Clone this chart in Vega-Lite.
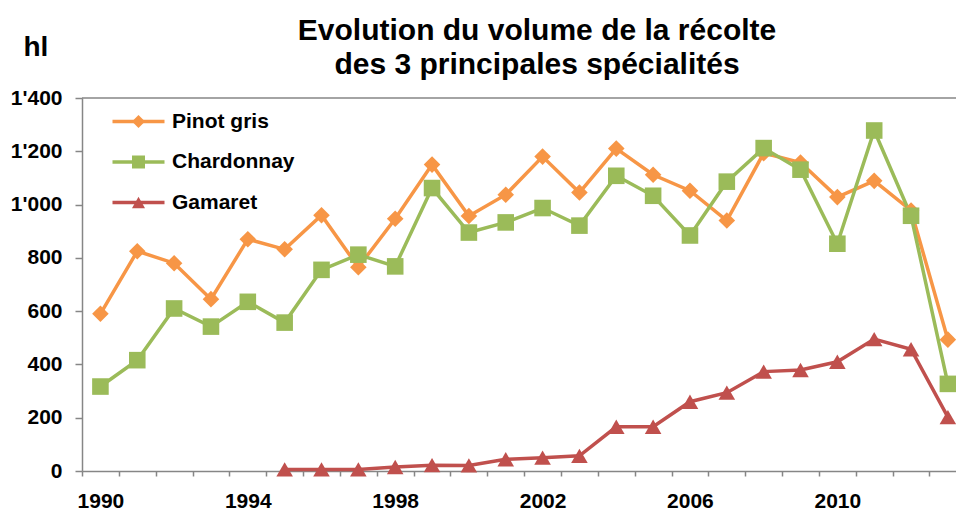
{
  "$schema": "https://vega.github.io/schema/vega-lite/v6.json",
  "width": 874,
  "height": 373,
  "autosize": {"type": "none"},
  "padding": {"left": 82, "top": 98, "right": 0, "bottom": 39},
  "background": "white",
  "config": {
    "font": "Liberation Sans",
    "view": {"stroke": null},
    "axis": {
      "grid": false,
      "domainColor": "#868686",
      "domainWidth": 1.5,
      "tickColor": "#868686",
      "tickWidth": 1.5,
      "labelFont": "Liberation Sans",
      "labelFontWeight": "bold",
      "labelColor": "#000000",
      "labelFontSize": 21
    }
  },
  "title": {
    "text": ["Evolution du volume de la récolte", "des 3 principales spécialités"],
    "font": "Liberation Sans",
    "fontSize": 30,
    "fontWeight": "bold",
    "color": "#000000",
    "lineHeight": 34,
    "anchor": "middle",
    "dx": 18,
    "dy": 57,
    "offset": 10
  },
  "datasets": {
    "harvest": [
      {"year": 1990, "variety": "Pinot gris", "hl": 590},
      {"year": 1991, "variety": "Pinot gris", "hl": 825},
      {"year": 1992, "variety": "Pinot gris", "hl": 780},
      {"year": 1993, "variety": "Pinot gris", "hl": 645},
      {"year": 1994, "variety": "Pinot gris", "hl": 870},
      {"year": 1995, "variety": "Pinot gris", "hl": 832},
      {"year": 1996, "variety": "Pinot gris", "hl": 960},
      {"year": 1997, "variety": "Pinot gris", "hl": 765},
      {"year": 1998, "variety": "Pinot gris", "hl": 947},
      {"year": 1999, "variety": "Pinot gris", "hl": 1150},
      {"year": 2000, "variety": "Pinot gris", "hl": 957},
      {"year": 2001, "variety": "Pinot gris", "hl": 1037},
      {"year": 2002, "variety": "Pinot gris", "hl": 1180},
      {"year": 2003, "variety": "Pinot gris", "hl": 1045},
      {"year": 2004, "variety": "Pinot gris", "hl": 1210},
      {"year": 2005, "variety": "Pinot gris", "hl": 1112},
      {"year": 2006, "variety": "Pinot gris", "hl": 1052},
      {"year": 2007, "variety": "Pinot gris", "hl": 940},
      {"year": 2008, "variety": "Pinot gris", "hl": 1193},
      {"year": 2009, "variety": "Pinot gris", "hl": 1158},
      {"year": 2010, "variety": "Pinot gris", "hl": 1028},
      {"year": 2011, "variety": "Pinot gris", "hl": 1089},
      {"year": 2012, "variety": "Pinot gris", "hl": 978},
      {"year": 2013, "variety": "Pinot gris", "hl": 493},
      {"year": 1990, "variety": "Chardonnay", "hl": 317},
      {"year": 1991, "variety": "Chardonnay", "hl": 416},
      {"year": 1992, "variety": "Chardonnay", "hl": 610},
      {"year": 1993, "variety": "Chardonnay", "hl": 542},
      {"year": 1994, "variety": "Chardonnay", "hl": 635},
      {"year": 1995, "variety": "Chardonnay", "hl": 557},
      {"year": 1996, "variety": "Chardonnay", "hl": 755},
      {"year": 1997, "variety": "Chardonnay", "hl": 812},
      {"year": 1998, "variety": "Chardonnay", "hl": 768},
      {"year": 1999, "variety": "Chardonnay", "hl": 1062},
      {"year": 2000, "variety": "Chardonnay", "hl": 895},
      {"year": 2001, "variety": "Chardonnay", "hl": 933},
      {"year": 2002, "variety": "Chardonnay", "hl": 987},
      {"year": 2003, "variety": "Chardonnay", "hl": 921},
      {"year": 2004, "variety": "Chardonnay", "hl": 1108},
      {"year": 2005, "variety": "Chardonnay", "hl": 1033},
      {"year": 2006, "variety": "Chardonnay", "hl": 884},
      {"year": 2007, "variety": "Chardonnay", "hl": 1086},
      {"year": 2008, "variety": "Chardonnay", "hl": 1212},
      {"year": 2009, "variety": "Chardonnay", "hl": 1131},
      {"year": 2010, "variety": "Chardonnay", "hl": 853},
      {"year": 2011, "variety": "Chardonnay", "hl": 1278},
      {"year": 2012, "variety": "Chardonnay", "hl": 958},
      {"year": 2013, "variety": "Chardonnay", "hl": 327},
      {"year": 1995, "variety": "Gamaret", "hl": 6},
      {"year": 1996, "variety": "Gamaret", "hl": 6},
      {"year": 1997, "variety": "Gamaret", "hl": 6},
      {"year": 1998, "variety": "Gamaret", "hl": 15},
      {"year": 1999, "variety": "Gamaret", "hl": 22},
      {"year": 2000, "variety": "Gamaret", "hl": 21},
      {"year": 2001, "variety": "Gamaret", "hl": 44},
      {"year": 2002, "variety": "Gamaret", "hl": 50},
      {"year": 2003, "variety": "Gamaret", "hl": 57},
      {"year": 2004, "variety": "Gamaret", "hl": 166},
      {"year": 2005, "variety": "Gamaret", "hl": 166},
      {"year": 2006, "variety": "Gamaret", "hl": 260},
      {"year": 2007, "variety": "Gamaret", "hl": 294},
      {"year": 2008, "variety": "Gamaret", "hl": 373},
      {"year": 2009, "variety": "Gamaret", "hl": 379},
      {"year": 2010, "variety": "Gamaret", "hl": 410},
      {"year": 2011, "variety": "Gamaret", "hl": 495},
      {"year": 2012, "variety": "Gamaret", "hl": 457},
      {"year": 2013, "variety": "Gamaret", "hl": 202}
    ]
  },
  "data": {"name": "harvest"},
  "encoding": {
    "x": {
      "field": "year",
      "type": "quantitative",
      "scale": {"domain": [1989.5, 2013.22], "nice": false, "zero": false},
      "axis": {
        "title": null,
        "values": [1989.5, 1990.5, 1991.5, 1992.5, 1993.5, 1994.5, 1995.5, 1996.5, 1997.5, 1998.5, 1999.5, 2000.5, 2001.5, 2002.5, 2003.5, 2004.5, 2005.5, 2006.5, 2007.5, 2008.5, 2009.5, 2010.5, 2011.5, 2012.5],
        "labelExpr": "(datum.value + 0.5 - 1990) % 4 == 0 ? '' + (datum.value + 0.5) : ''",
        "labelOffset": 18.4,
        "labelFlush": false,
        "labelOverlap": false,
        "labelBound": false,
        "tickSize": 5,
        "labelPadding": 14
      }
    },
    "y": {
      "field": "hl",
      "type": "quantitative",
      "scale": {"domain": [0, 1400], "nice": false},
      "axis": {
        "title": "hl",
        "titleAngle": 0,
        "titleX": -59,
        "titleY": -43,
        "titleAlign": "left",
        "titleBaseline": "alphabetic",
        "titleFont": "Liberation Sans",
        "titleFontSize": 28,
        "titleFontWeight": "bold",
        "titleColor": "#000000",
        "values": [0, 200, 400, 600, 800, 1000, 1200, 1400],
        "labelExpr": "replace(format(datum.value, ','), ',', \"'\")",
        "tickSize": 7,
        "labelPadding": 13
      }
    }
  },
  "layer": [
    {
      "data": {"values": [{"top": 1400}]},
      "mark": {"type": "rule", "color": "#868686", "strokeWidth": 1.5},
      "encoding": {"x": null, "y": {"field": "top", "type": "quantitative"}}
    },
    {
      "mark": {"type": "line", "strokeWidth": 3.5},
      "encoding": {
        "stroke": {
          "field": "variety",
          "type": "nominal",
          "sort": ["Pinot gris", "Chardonnay", "Gamaret"],
          "scale": {"range": ["#F79646", "#9BBB59", "#C0504D"]},
          "legend": {
            "orient": "none",
            "legendX": 46,
            "legendY": 13,
            "title": null,
            "symbolType": "M-4,0H4",
            "symbolSize": 169,
            "symbolStrokeWidth": 3.5,
            "labelFont": "Liberation Sans",
            "labelFontSize": 21,
            "labelFontWeight": "bold",
            "labelColor": "#000000",
            "labelOffset": 23,
            "rowPadding": 18.5,
            "padding": 0
          }
        }
      }
    },
    {
      "mark": {"type": "point", "filled": true, "opacity": 1, "size": 275},
      "encoding": {
        "fill": {
          "field": "variety",
          "type": "nominal",
          "scale": {"domain": ["Pinot gris", "Chardonnay", "Gamaret"], "range": ["#F79646", "#9BBB59", "#C0504D"]},
          "legend": {
            "orient": "none",
            "legendX": 46,
            "legendY": 13,
            "title": null,
            "symbolSize": 169,
            "symbolStrokeWidth": 0,
            "symbolOpacity": 1,
            "labelFont": "Liberation Sans",
            "labelFontSize": 21,
            "labelFontWeight": "bold",
            "labelOpacity": 0,
            "labelOffset": 23,
            "rowPadding": 18.5,
            "padding": 0
          }
        },
        "shape": {
          "field": "variety",
          "type": "nominal",
          "scale": {"domain": ["Pinot gris", "Chardonnay", "Gamaret"], "range": ["diamond", "square", "triangle-up"]},
          "legend": {
            "orient": "none",
            "legendX": 46,
            "legendY": 13,
            "title": null,
            "symbolSize": 169,
            "symbolStrokeWidth": 0,
            "symbolOpacity": 1,
            "labelFont": "Liberation Sans",
            "labelFontSize": 21,
            "labelFontWeight": "bold",
            "labelOpacity": 0,
            "labelOffset": 23,
            "rowPadding": 18.5,
            "padding": 0
          }
        }
      }
    }
  ]
}
